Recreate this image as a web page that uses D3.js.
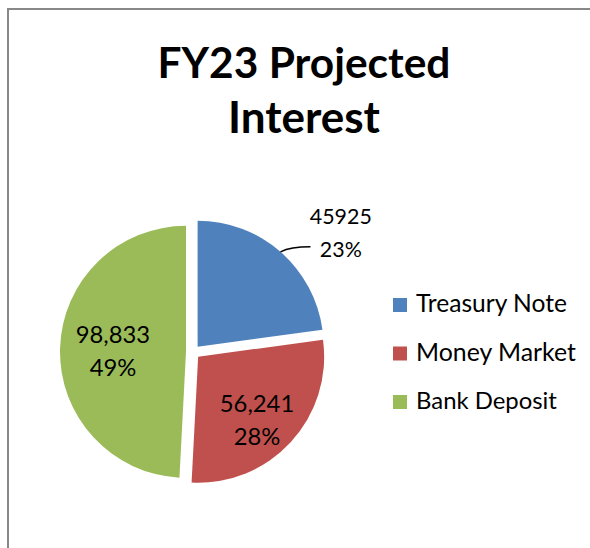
<!DOCTYPE html>
<html>
<head>
<meta charset="utf-8">
<script src="https://cdn.jsdelivr.net/npm/d3@7"></script>
<style>
  body { margin: 0; background: #fff; }
  text { font-family: Lato, "Open Sans", sans-serif; fill: #000; }
</style>
</head>
<body>
<script>
// chart data
var categories = ['Treasury Note', 'Money Market', 'Bank Deposit'];
var values = [45925, 56241, 98833];
var valueLabels = ['45925', '56,241', '98,833'];
var percentLabels = ['23%', '28%', '49%'];
var colors = ['#4F81BD', '#C0504D', '#9BBB59'];
var titleLines = ['FY23 Projected', 'Interest'];

var width = 590;
var height = 548;
var svg = d3.select('body').append('svg')
  .attr('width', width)
  .attr('height', height);

// chart area border (only left and top are in view)
svg.append('rect')
  .attr('x', 8).attr('y', 9)
  .attr('width', 700).attr('height', 700)
  .style('fill', 'none')
  .style('stroke', '#888')
  .style('stroke-width', 2);

// shrink/grow text so it spans roughly what it did in the original
var fitWidth = function(sel, target){
  var w = sel.node().getComputedTextLength();
  var fs = parseFloat(sel.style('font-size'));
  sel.style('font-size', (fs * target / w) + 'px');
};

// title
var titleWidths = [293, 152];
titleLines.forEach(function(t, i){
  var tt = svg.append('text')
    .attr('x', 304)
    .attr('y', 78 + i * 55)
    .attr('text-anchor', 'middle')
    .style('font-weight', 'bold')
    .style('font-size', '40px')
    .text(t);
  fitWidth(tt, titleWidths[i]);
});

// pie
var cx = 193, cy = 352, r = 126, explode = 7;
var pie = d3.pie().sort(null).value(function(d){ return d; });
var arcs = pie(values);
var arc = d3.arc().innerRadius(0).outerRadius(r);

var polar = function(a, dist){
  return [Math.sin(a) * dist, -Math.cos(a) * dist];
};

var slices = svg.selectAll('g.slice').data(arcs)
  .enter()
  .append('g')
  .attr('class', 'slice')
  .attr('transform', function(d){
    var mid = (d.startAngle + d.endAngle) / 2;
    var o = polar(mid, explode);
    return 'translate(' + (cx + o[0]) + ',' + (cy + o[1]) + ')';
  });

slices.append('path')
  .attr('d', arc)
  .style('fill', function(d, i){ return colors[i]; });

// data labels: distance from slice apex, as fraction of r, and angle tweak (deg)
var labelDist = [1.46, 0.68, 0.58];
var labelTurn = [10, 4, 0];

slices.each(function(d, i){
  var g = d3.select(this);
  var mid = (d.startAngle + d.endAngle) / 2;
  var p = polar(mid + labelTurn[i] * Math.PI / 180, r * labelDist[i]);
  var t1 = g.append('text')
    .attr('x', p[0]).attr('y', p[1] - 7)
    .attr('text-anchor', 'middle')
    .style('font-size', '22px')
    .text(valueLabels[i]);
  var t2 = g.append('text')
    .attr('x', p[0]).attr('y', p[1] + 26)
    .attr('text-anchor', 'middle')
    .style('font-size', '22px')
    .text(percentLabels[i]);
  fitWidth(t1, valueLabels[i].length * 12.4);
  t2.style('font-size', t1.style('font-size'));
  if (i === 0) {
    // leader line from the slice edge to the outside label
    var a = polar(mid, r);
    g.append('path')
      .attr('d', 'M' + a[0] + ',' + a[1] + ' Q' + (a[0] + 10) + ',' + (a[1] - 5) + ' ' + (a[0] + 30) + ',' + (a[1] - 5))
      .style('fill', 'none')
      .style('stroke', '#000')
      .style('stroke-width', 1.5);
  }
});

// legend
var legend = svg.selectAll('g.legend').data(categories)
  .enter()
  .append('g')
  .attr('class', 'legend')
  .attr('transform', function(d, i){ return 'translate(393,' + (298 + i * 48.5) + ')'; });

legend.append('rect')
  .attr('width', 14).attr('height', 14)
  .style('fill', function(d, i){ return colors[i]; });

var legendWidths = [151, 160, 141];
legend.append('text')
  .attr('x', 23).attr('y', 14)
  .style('font-size', '21px')
  .text(function(d){ return d; })
  .each(function(d, i){ fitWidth(d3.select(this), legendWidths[i]); });
</script>
</body>
</html>
